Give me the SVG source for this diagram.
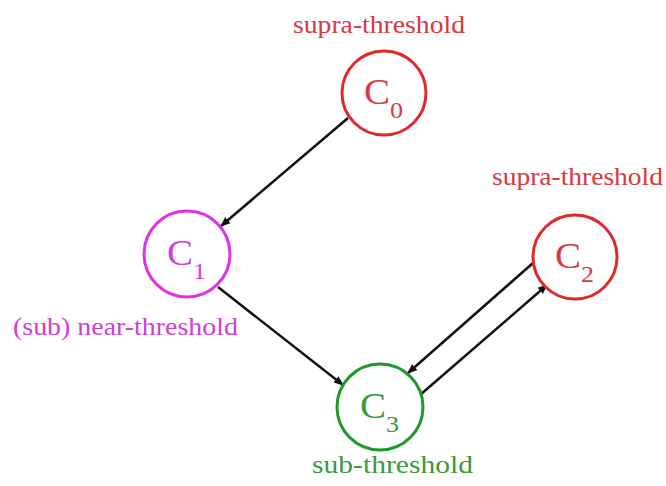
<svg xmlns="http://www.w3.org/2000/svg" width="666" height="486" viewBox="0 0 666 486">
<style>
.lbl{font-family:"Liberation Serif","Times New Roman",serif;font-size:25px}
.cn{font-family:"Liberation Serif","Times New Roman",serif;font-size:35px}
.sub{font-size:23px}
.node{fill:#fff;stroke-width:3}
.red{stroke:#e02a2a}
.mag{stroke:#e030e8}
.grn{stroke:#1f9a2a}
.tred{fill:#d8383f}
.tmag{fill:#d040d8}
.tgrn{fill:#3a9a3e}
.edge{stroke:#111;stroke-width:2.5;fill:none;marker-end:url(#ah)}
</style>
<defs>
<marker id="ah" viewBox="0 0 10 10" refX="9" refY="5" markerWidth="4" markerHeight="4" orient="auto" markerUnits="strokeWidth">
<path d="M0,1 L10,5 L0,9 z" fill="#111"/>
</marker>
</defs>
<rect width="666" height="486" fill="#fff"/>
<g id="edges">
<line class="edge" x1="348" y1="118" x2="221" y2="226"/>
<line class="edge" x1="218" y1="287" x2="343" y2="385"/>
<line class="edge" x1="533" y1="263" x2="408" y2="373"/>
<line class="edge" x1="420" y1="395" x2="547" y2="285"/>
</g>
<g id="C0">
<circle class="node red" cx="384" cy="93" r="42"/>
<text class="cn tred" x="364" y="104" textLength="26" lengthAdjust="spacingAndGlyphs">C</text>
<text class="cn sub tred" x="390" y="118" textLength="13" lengthAdjust="spacingAndGlyphs">0</text>
<text class="lbl tred" x="293" y="33" textLength="172" lengthAdjust="spacingAndGlyphs">supra-threshold</text>
</g>
<g id="C1">
<circle class="node mag" cx="187" cy="254" r="43"/>
<text class="cn tmag" x="167" y="265" textLength="26" lengthAdjust="spacingAndGlyphs">C</text>
<text class="cn sub tmag" x="193" y="279" textLength="13" lengthAdjust="spacingAndGlyphs">1</text>
<text class="lbl tmag" x="13" y="335" textLength="225" lengthAdjust="spacingAndGlyphs">(sub) near-threshold</text>
</g>
<g id="C2">
<circle class="node red" cx="575" cy="257" r="42"/>
<text class="cn tred" x="555" y="268" textLength="26" lengthAdjust="spacingAndGlyphs">C</text>
<text class="cn sub tred" x="581" y="282" textLength="13" lengthAdjust="spacingAndGlyphs">2</text>
<text class="lbl tred" x="492" y="185" textLength="171" lengthAdjust="spacingAndGlyphs">supra-threshold</text>
</g>
<g id="C3">
<circle class="node grn" cx="380" cy="407" r="43"/>
<text class="cn tgrn" x="360" y="418" textLength="26" lengthAdjust="spacingAndGlyphs">C</text>
<text class="cn sub tgrn" x="386" y="432" textLength="13" lengthAdjust="spacingAndGlyphs">3</text>
<text class="lbl tgrn" x="312" y="473" textLength="161" lengthAdjust="spacingAndGlyphs">sub-threshold</text>
</g>
</svg>
